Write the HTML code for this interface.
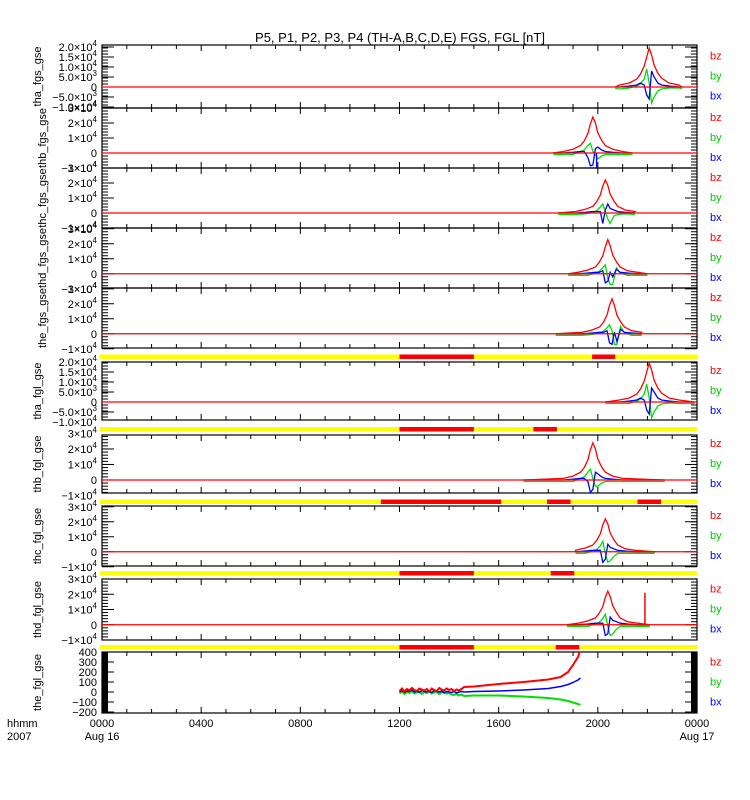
<!DOCTYPE html>
<html><head><meta charset="utf-8"><style>
html,body{margin:0;padding:0;background:#fff;}
svg{display:block;font-family:"Liberation Sans",sans-serif;}
</style></head><body>
<svg id="chart" width="750" height="800" viewBox="0 0 750 800" xmlns="http://www.w3.org/2000/svg">
<rect width="750" height="800" fill="#fff"/>
<text x="400" y="42" text-anchor="middle" font-size="13">P5, P1, P2, P3, P4 (TH-A,B,C,D,E) FGS, FGL [nT]</text>
<g id="layer"></g>
</svg>
<script>
// ---- data (values in 10^3 nT for FGS/FGL panels) ----
const panelNames = ["tha_fgs_gse","thb_fgs_gse","thc_fgs_gse","thd_fgs_gse","the_fgs_gse","tha_fgl_gse","thb_fgl_gse","thc_fgl_gse","thd_fgl_gse"];
const peakCenters = [22.07, 19.8, 20.3, 20.4, 20.57, 22.07, 19.8, 20.3, 20.4];
const dataStarts = [20.7, 18.2, 18.4, 18.8, 18.3, 20.3, 17.0, 19.1, 18.75];
const dataEnds = [23.4, 21.4, 21.4, 22.0, 21.7, 23.9, 22.7, 22.3, 22.1];
const offsets = [-1.2,-0.8,-0.5,-0.35,-0.2,-0.1,0,0.1,0.2,0.35,0.5,0.8,1.2];
const bzVals = [
 [1,2,4,6.5,10.5,15,19.5,16,11,7,4.5,2,1],
 [1,2.5,5,8,13,19.5,24,20,13.5,8.5,5,2.5,1],
 [1,2.5,4.5,7.5,12,18,22,18.5,12.5,8,4.5,2,1],
 [1,2.5,4.5,7.5,12,18,22.7,18.5,12.5,8,4.5,2,1],
 [1,2.5,4.5,7.5,12.5,19,23.3,19,12.5,8,4.5,2,1],
 [1,2,4,6.5,10.5,15,19.5,16,11,7,4.5,2,1],
 [1,2.5,5,8,13,19.5,24,20,13.5,8.5,5,2.5,1],
 [1,2.5,4.5,7.5,12,18,22,18.5,12.5,8,4.5,2,1],
 [1,2.5,4.5,7.5,12,18,22,18.5,12.5,8,4.5,2,1]
];
const byVals = [
 [-1,-0.5,0.5,1.5,4,9,2,-8,-5,-2,-1,-0.5,-0.5],
 [0,0,1,2,5,6.5,1,-1,-4,-2,-1,0,0],
 [-1,-0.5,0.5,1.5,4,6,1,-4,-7,-2,-1,-0.5,0],
 [0,0,0.5,1.5,4,6,-3,-7,-7,4,0.5,0,0],
 [-1,-0.5,0.5,1.5,4,6,2,-7,-7,5,0.5,0,0],
 [0,0,0.5,1.5,4,9,2,-8,-5,-2,-1,-0.5,0],
 [0,0,1,2,5,7,1,-4,-4,-2,-1,0,0],
 [0,0,0.5,1.5,4,7,0,-7,-6,-3,-1,0,0],
 [0,0,0.5,1.5,4,7,0,-7,-6,-3,-1,0,0]
];
const bxVals = [
 [0,0.5,1,2,1,-4,-6,8,5,2,1,0.5,0],
 [0,0.5,1,1,-3,-8.5,-8,3,4,2,1,0.5,0],
 [0,0.5,1,1,1,-7,2,6,3,2,1,0.5,0],
 [0,0.5,1,1,2,-6,-5,1,-2,3,1,0.5,0],
 [0,0.5,1,1,2,-6,-7,1,-5,3,1,0.5,0],
 [0,0.5,1,2,1,-4,-6,7,5,2,1,0.5,0],
 [0,0.5,1,1,-1,-8,-6,5,4,2,1,0.5,0],
 [0,0.5,1,1,1,-7,-5,5,3,2,1,0.5,0],
 [0,0.5,1,1,1,-7,-6,5,3,2,1,0.5,0]
];
// the_fgl panel (nT)
const p10Times = [12.0,12.1,12.2,12.3,12.4,12.5,12.6,12.7,12.8,12.9,13.0,13.1,13.2,13.3,13.4,13.5,13.6,13.7,13.8,13.9,14.0,14.1,14.2,14.3,14.4,14.5,14.6,15.0,16.0,17.0,18.0,18.5,18.8,19.0,19.2,19.3];
const p10Bz = [10,35,5,30,15,40,20,10,35,25,15,30,5,35,20,10,40,25,15,35,20,30,10,25,15,30,50,55,80,100,125,150,200,270,350,430];
const p10By = [-15,5,-20,0,-10,10,-15,-5,5,-20,0,-10,5,-15,-5,0,-20,-5,5,-15,-10,-25,-30,-20,-35,-25,-40,-35,-35,-45,-60,-75,-90,-105,-120,-130];
const p10Bx = [0,15,-5,10,5,20,0,10,-5,15,5,0,10,-5,15,5,0,10,-10,5,0,-5,5,-10,0,5,0,5,10,20,35,55,75,95,120,140];
// state bars: [start,end] hours of red segments
const barRows = [
 [[12.0,15.0],[19.77,20.7]],
 [[12.0,15.0],[17.4,18.35]],
 [[11.25,16.1],[17.95,18.9],[21.6,22.55]],
 [[12.0,15.0],[18.1,19.05]],
 [[12.0,15.0],[18.3,19.25]]
];
const xTickLabels = ["0000","0400","0800","1200","1600","2000","0000"];
// ---- layout ----
const X0=102, X1=697;
const layer=document.getElementById('layer');
const NS="http://www.w3.org/2000/svg";
function xs(h){return X0+(h/24)*(X1-X0);}
function mk(tag,attrs,parent){const e=document.createElementNS(NS,tag);for(const k in attrs)e.setAttribute(k,attrs[k]);(parent||layer).appendChild(e);return e;}
const panels=[
 {top:45,bot:108,min:-10.5,max:21,major:[20,15,10,5,0,-5,-10],labels:[["2.0","4"],["1.5","4"],["1.0","4"],["5.0","3"],["0"],["\u22125.0","3"],["\u22121.0","4"]],minor:1.5},
 {top:108,bot:168,min:-10,max:30,major:[30,20,10,0,-10],labels:[["3","4"],["2","4"],["1","4"],["0"],["\u22121","4"]],minor:2},
 {top:168,bot:228,min:-10,max:30,major:[30,20,10,0,-10],labels:[["3","4"],["2","4"],["1","4"],["0"],["\u22121","4"]],minor:2},
 {top:228,bot:288,min:-9.5,max:30.5,major:[30,20,10,0,-10],labels:[["3","4"],["2","4"],["1","4"],["0"],["\u22121","4"]],minor:2},
 {top:288,bot:348,min:-9.5,max:30.5,major:[30,20,10,0,-10],labels:[["3","4"],["2","4"],["1","4"],["0"],["\u22121","4"]],minor:2},
 {top:362,bot:420,min:-9,max:20,major:[20,15,10,5,0,-5,-10],labels:[["2.0","4"],["1.5","4"],["1.0","4"],["5.0","3"],["0"],["\u22125.0","3"],["\u22121.0","4"]],minor:1.5},
 {top:435,bot:493,min:-8.4,max:29,major:[30,20,10,0,-10],labels:[["3","4"],["2","4"],["1","4"],["0"],["\u22121","4"]],minor:2},
 {top:506,bot:566,min:-9.5,max:30.5,major:[30,20,10,0,-10],labels:[["3","4"],["2","4"],["1","4"],["0"],["\u22121","4"]],minor:2},
 {top:579,bot:640,min:-10,max:30,major:[30,20,10,0,-10],labels:[["3","4"],["2","4"],["1","4"],["0"],["\u22121","4"]],minor:2},
 {top:652,bot:713,min:-210,max:400,major:[400,300,200,100,0,-100,-200],labels:[["400"],["300"],["200"],["100"],["0"],["\u2212100"],["\u2212200"]],minor:10}
];
const barYs=[354.5,427,499.5,571,645];
function ysFor(p){return v=>p.top+(p.max-v)/(p.max-p.min)*(p.bot-p.top);}
function poly(pts,color,name,clip,w){
 const e=mk('polyline',{points:pts.map(p=>p[0].toFixed(1)+','+p[1].toFixed(1)).join(' '),fill:'none',stroke:color,'stroke-width':w||1.3});
 if(clip)e.setAttribute('clip-path',clip);
 
 
}
const names10="the_fgl_gse";
panels.forEach((p,i)=>{
 const ys=ysFor(p);
 const g=mk('g',{});
 
 
 const cid='clip'+i;
 const cp=mk('clipPath',{id:cid},g);mk('rect',{x:X0,y:p.top,width:X1-X0,height:p.bot-p.top},cp);
 // minor ticks
 for(let v=Math.ceil(p.min/p.minor)*p.minor; v<=p.max; v+=p.minor){
  const y=ys(v);
  mk('line',{x1:X0,x2:X0+6,y1:y,y2:y,stroke:'#000','stroke-width':1},g);
  mk('line',{x1:X1-6,x2:X1,y1:y,y2:y,stroke:'#000','stroke-width':1},g);
 }
 p.major.forEach((v,k)=>{
  const y=ys(v);
  if(y<p.top-1||y>p.bot+1) {} else {
   mk('line',{x1:X0,x2:X0+12,y1:y,y2:y,stroke:'#000'},g);
   mk('line',{x1:X1-12,x2:X1,y1:y,y2:y,stroke:'#000'},g);
  }
  const lab=p.labels[k];
  const t=mk('text',{x:97,y:(y+4).toFixed(1),'text-anchor':'end','font-size':11},g);
  
  
  if(lab.length>1){t.appendChild(document.createTextNode(lab[0]+'\u00d710'));const s=mk('tspan',{dy:-5,'font-size':8},t);s.textContent=lab[1];}
  else t.textContent=lab[0];
 });
 // x ticks
 for(let h=0;h<=24;h++){
  const x=xs(h),len=h%4===0?6:4;
  mk('line',{x1:x,x2:x,y1:p.bot,y2:p.bot-len,stroke:'#000'},g);
  mk('line',{x1:x,x2:x,y1:p.top,y2:p.top+len,stroke:'#000'},g);
 }
 // series
 if(i<9){
  const c=peakCenters[i],s=dataStarts[i],e=dataEnds[i];
  const build=arr=>{const pts=[[xs(s),ys(0)]];offsets.forEach((o,k)=>pts.push([xs(c+o),ys(arr[k])]));pts.push([xs(e),ys(0)]);return pts;};
  const gp=build(byVals[i]).map(q=>[q[0],q[1]+(q[1]===ys(0)?1.5:0)]);
  poly(gp,'#00e000','by-series-'+(i+1),'url(#'+cid+')');
  poly(build(bxVals[i]),'#0000ff','bx-series-'+(i+1),'url(#'+cid+')');
  const zl=mk('line',{x1:X0,x2:X1,y1:ys(0),y2:ys(0),stroke:'#ff0000','stroke-width':1.3});
  
  
  poly(build(bzVals[i]),'#ff0000','bz-series-'+(i+1),'url(#'+cid+')');
  if(i===1){const sp=mk('line',{x1:xs(c+0.15),x2:xs(c+0.15),y1:ys(0),y2:p.bot,stroke:'#0000ff','stroke-width':1.3});}
  if(i===8){const sp=mk('line',{x1:xs(21.9),x2:xs(21.9),y1:ys(0),y2:ys(21),stroke:'#ff0000','stroke-width':1.5});}
 } else {
  poly(p10Times.map((t,k)=>[xs(t),ys(p10By[k])]),'#00e000','by-series-10','url(#'+cid+')',2);
  poly(p10Times.map((t,k)=>[xs(t),ys(p10Bx[k])]),'#0000ff','bx-series-10','url(#'+cid+')',1.5);
  poly(p10Times.map((t,k)=>[xs(t),ys(p10Bz[k])]),'#ff0000','bz-series-10','url(#'+cid+')',2);
 }
 mk('rect',{x:X0,y:p.top,width:X1-X0,height:p.bot-p.top,fill:'none',stroke:'#000','stroke-width':1.2},g);
 // y title
 const cy=(p.top+p.bot)/2;
 const yt=mk('text',{x:0,y:0,'text-anchor':'middle','font-size':11,transform:`translate(${i===0?41:(i>=5?41:46)},${cy}) rotate(-90)`},g);
 yt.textContent=i<9?panelNames[i]:names10;
 
 
 // legend
 [['bz','#ff0000',-20],['by','#00cc00',0],['bx','#0000ff',20]].forEach(l=>{
  const t=mk('text',{x:710,y:(cy+l[2]+3).toFixed(1),fill:l[1],'font-size':11},g);
  t.textContent=l[0];
  
  
 });
});
// state bars
barRows.forEach((segs,r)=>{
 const y=barYs[r];
 const b=mk('rect',{x:100,y:y,width:X1-100,height:4.5,fill:'#ffff00'});
 
 
 segs.forEach(sg=>{
  const s=mk('rect',{x:xs(sg[0]),y:y,width:xs(sg[1])-xs(sg[0]),height:4.5,fill:'#ff0000'});
  
  
 });
});
// x axis labels
xTickLabels.forEach((lab,k)=>{
 const t=mk('text',{x:xs(k*4),y:727,'text-anchor':'middle','font-size':11});
 t.textContent=lab;
 
 
});
[['Aug 16',xs(0)],['Aug 17',xs(24)]].forEach(d=>{
 const t=mk('text',{x:d[1],y:740,'text-anchor':'middle','font-size':11});
 t.textContent=d[0];
 
 
});
const hh=mk('text',{x:7,y:727,'font-size':11});hh.textContent='hhmm';


const yr=mk('text',{x:7,y:740,'font-size':11});yr.textContent='2007';


</script>
</body></html>
